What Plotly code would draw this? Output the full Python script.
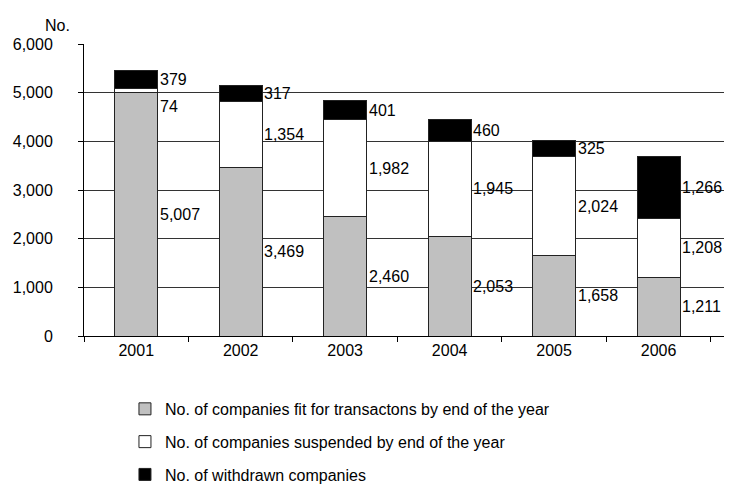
import plotly.graph_objects as go

years = ["2001", "2002", "2003", "2004", "2005", "2006"]
fit_for_trading = [5007, 3469, 2460, 2053, 1658, 1211]
suspended = [74, 1354, 1982, 1945, 2024, 1208]
withdrawn = [379, 317, 401, 460, 325, 1266]

series = [
    ("No. of companies fit for transactons by end of the year", fit_for_trading, "#C0C0C0"),
    ("No. of companies suspended by end of the year", suspended, "#FFFFFF"),
    ("No. of withdrawn companies", withdrawn, "#000000"),
]

FONT = "Liberation Sans, Arial, sans-serif"
FS = 16

fig = go.Figure()
for k, (name, vals, color) in enumerate(series):
    fig.add_trace(go.Bar(
        x=years, y=vals, name=name, legendgroup=f"g{k}",
        marker=dict(color=color, line=dict(color="#222222", width=1)),
        width=0.41,
    ))

# value labels to the right of each stacked segment, centred on the segment
for i, yr in enumerate(years):
    base = 0
    mids = []
    for _, vals, _ in series:
        v = vals[i]
        mids.append((base + v / 2, v))
        base += v
    # nudge labels apart where segments are too thin to hold them
    placed = []
    for mid, v in reversed(mids):
        y = mid
        if placed and placed[-1] - y < 560:
            y = placed[-1] - 560
        placed.append(y)
        fig.add_annotation(
            x=i + 0.205, y=y, xref="x", yref="y",
            text=f"{v:,}", showarrow=False,
            xanchor="left", yanchor="middle", xshift=0,
            font=dict(family=FONT, size=FS, color="#000000"),
        )

fig.add_annotation(
    x=0, y=1.0, xref="paper", yref="paper", text="No.", showarrow=False,
    xanchor="right", yanchor="bottom", xshift=-12, yshift=8,
    font=dict(family=FONT, size=FS, color="#000000"),
)

fig.update_layout(
    barmode="stack",
    width=736, height=493,
    margin=dict(l=84, r=12, t=44, b=157),
    paper_bgcolor="white", plot_bgcolor="white",
    font=dict(family=FONT, size=FS, color="#000000"),
    showlegend=True,
    legend=dict(
        x=0.064, y=0.205, xanchor="left", yanchor="top", yref="container",
        traceorder="grouped", font=dict(family=FONT, size=FS),
        tracegroupgap=9,
        bgcolor="rgba(0,0,0,0)",
    ),
)
fig.update_xaxes(
    type="category", showline=True, linecolor="#000000", linewidth=1,
    ticks="outside", tickson="boundaries", ticklen=5, tickcolor="#000000",
    showgrid=False, tickfont=dict(family=FONT, size=FS),
)
fig.update_yaxes(
    range=[0, 6000], tickvals=[0, 1000, 2000, 3000, 4000, 5000, 6000],
    tickformat=",", showline=True, linecolor="#000000", linewidth=1,
    ticks="outside", ticklen=5, tickcolor="#000000",
    showgrid=True, gridcolor="#333333", gridwidth=1,
    ticklabelstandoff=22, zeroline=False,
    tickfont=dict(family=FONT, size=FS),
)

fig.write_html("out.html")
